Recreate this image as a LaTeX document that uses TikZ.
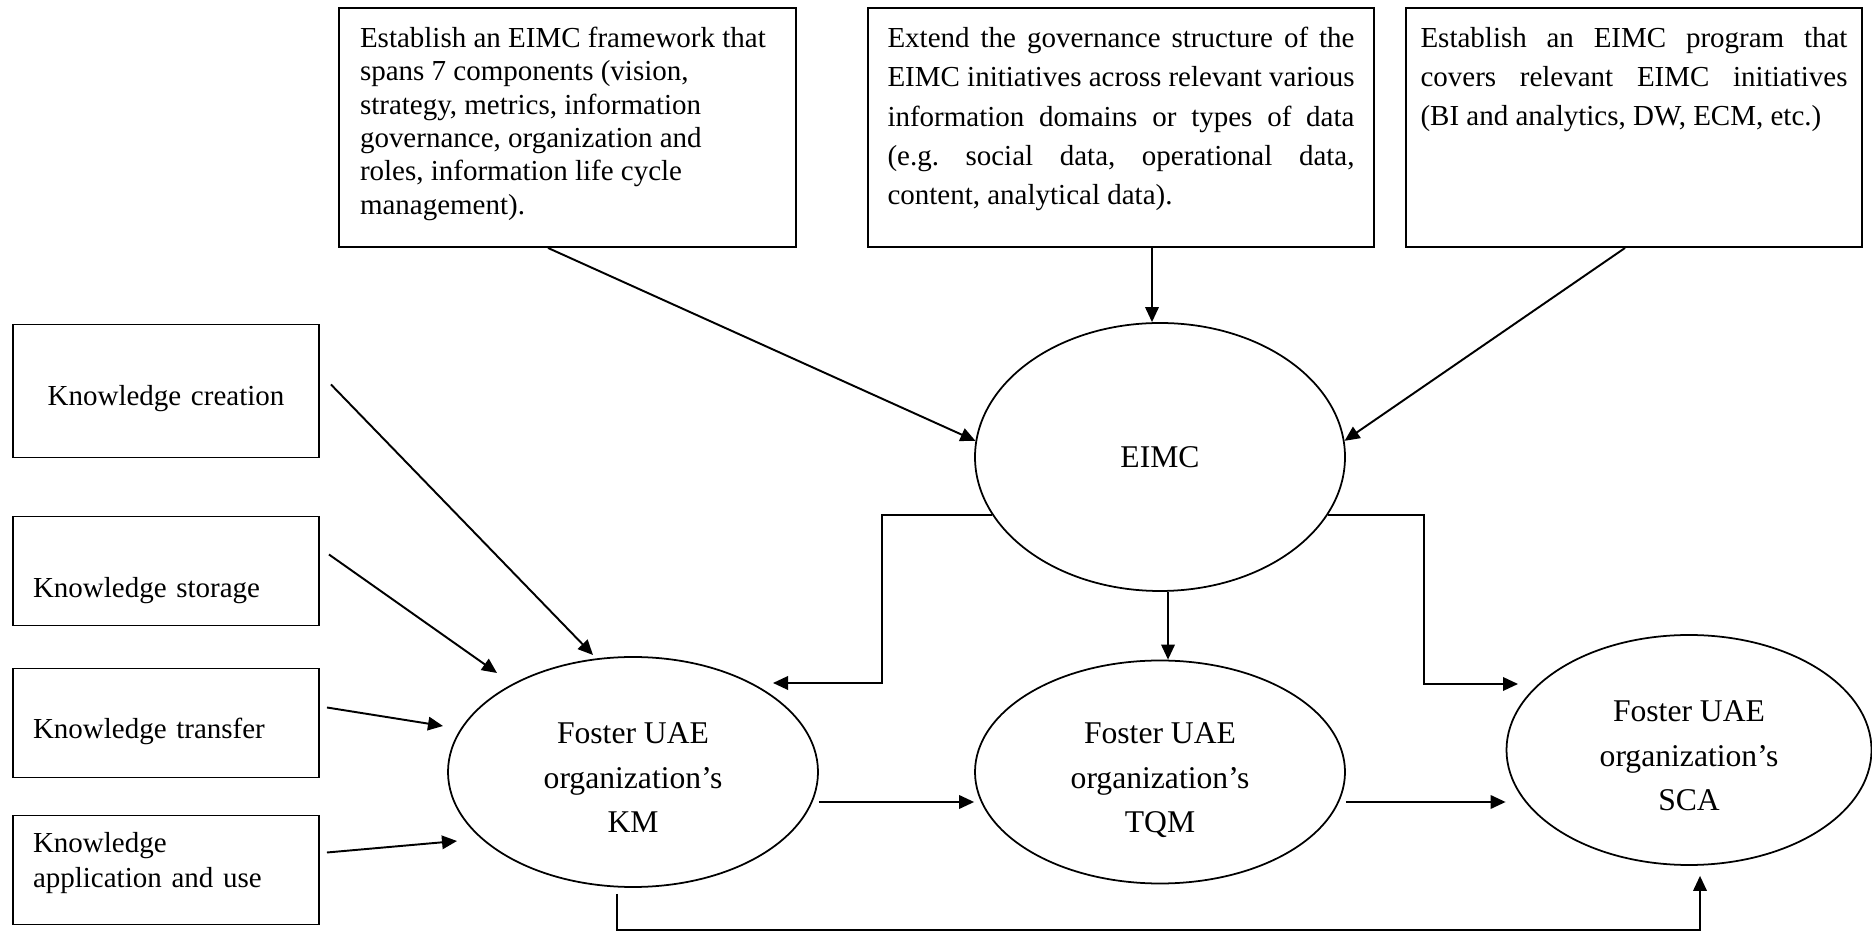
\documentclass[tikz,border=0pt]{standalone}
\usepackage{fontspec}
\setmainfont{Liberation Serif}
\usetikzlibrary{arrows.meta,shapes.geometric}
\frenchspacing
\setlength{\parindent}{0pt}
\newcommand{\boxfont}{\fontsize{16.5pt}{19pt}\selectfont}
\newcommand{\wideboxfont}{\fontsize{16.5pt}{22.4pt}\selectfont}
\newcommand{\kfont}{\fontsize{16.5pt}{19.8pt}\selectfont}
\newcommand{\ellfont}{\fontsize{18pt}{25.6pt}\selectfont}
\newcommand{\boxtext}[2]{\parbox[c][4.02cm][t]{#1}{#2}}
\tikzset{
    block/.style = {draw, rectangle, line width=1.1pt,
        minimum height=4.78cm, inner xsep=0pt, inner ysep=0.38cm, font=\boxfont},
    kblock/.style = {draw, rectangle, line width=1.1pt,
        minimum width=6.12cm, minimum height=2.18cm,
        text width=5.32cm, inner xsep=0.4cm, align=left, font=\kfont},
    goal/.style = {draw, ellipse, line width=1pt, inner sep=0pt,
        minimum width=7.4cm, minimum height=4.6cm, align=center, font=\ellfont,
        text height=2.44cm, text depth=0pt},
    arrow/.style = {draw, ->, line width=1.1pt}
}
\begin{document}
\begin{tikzpicture}[>={Triangle[length=0.3cm,width=0.27cm]}]
        \useasboundingbox (0,0) rectangle (37.44,18.62);
        % top boxes
        \node [block, minimum width=9.14cm] (frame) at (11.35,16.07) {\boxtext{8.3cm}{\raggedright Establish an EIMC framework that\\ spans 7 components (vision,\\ strategy, metrics, information\\ governance, organization and\\ roles, information life cycle\\ management).}};
        \node [block, font=\wideboxfont, minimum width=10.12cm, right of=frame, node distance=11.07cm] (govern) {\boxtext{9.34cm}{Extend the governance structure of the\linebreak EIMC initiatives across relevant various\linebreak information domains or types of data\linebreak (e.g. social data, operational data,\linebreak content, analytical data).}};
        \node [block, font=\wideboxfont, minimum width=9.12cm, right of=govern, node distance=10.26cm] (program) {\boxtext{8.54cm}{Establish an EIMC program that\linebreak covers relevant EIMC initiatives\linebreak (BI and analytics, DW, ECM, etc.)}};
        % knowledge boxes
        \node [kblock, align=center, minimum height=2.66cm, text height=0.58cm, text depth=0pt] (create) at (3.32,10.80) {Knowledge creation};
        \node [kblock, below of=create, node distance=3.6cm, text height=1.08cm, text depth=0pt] (store) {Knowledge storage};
        \node [kblock, below of=store, node distance=3.04cm, text height=0.62cm, text depth=0pt] (transfer) {Knowledge transfer};
        \node [kblock, below of=transfer, node distance=2.94cm, text height=0.1cm, text depth=0.8cm] (apply) {Knowledge\\application and use};
        % ellipses
        \node [goal] (km) at (12.66,3.18) {Foster UAE\\organization’s\\KM};
        \node [goal, minimum height=4.46cm, right of=km, node distance=10.54cm] (tqm) {Foster UAE\\organization’s\\TQM};
        \node [goal, minimum width=7.3cm, right of=tqm, node distance=10.58cm, yshift=0.44cm] (sca) {Foster UAE\\organization’s\\SCA};
        \node [goal, minimum height=5.36cm, text height=0.42cm, above of=tqm, node distance=6.3cm] (eimc) {EIMC};
        % into EIMC
        \draw [arrow] ([xshift=-0.39cm]frame.south) -- (eimc.175);
        \draw [arrow] ([xshift=-0.16cm]eimc.north |- govern.south) -- ([xshift=-0.16cm]eimc.north);
        \draw [arrow] ([xshift=-0.18cm]program.south) -- (eimc.5);
        % into KM
        \coordinate (tipcreate) at ([shift={(-0.8,2.34)}]km.center);
        \coordinate (tipstore) at ([shift={(-2.72,1.98)}]km.center);
        \coordinate (tiptransfer) at ([shift={(-3.8,0.92)}]km.center);
        \coordinate (tipapply) at ([shift={(-3.52,-1.38)}]km.center);
        \draw [arrow] ([shift={(0.22,0.13)}]create.east) -- (tipcreate);
        \draw [arrow] ([shift={(0.18,0.33)}]store.east) -- (tipstore);
        \draw [arrow] ([shift={(0.14,0.31)}]transfer.east) -- (tiptransfer);
        \draw [arrow] ([shift={(0.14,0.35)}]apply.east) -- (tipapply);
        % EIMC out
        \coordinate (kmtop) at ([shift={(2.8,1.78)}]km.center);
        \coordinate (scatop) at ([shift={(-3.42,1.32)}]sca.center);
        \draw [arrow] (eimc.199) -| ([xshift=2.18cm]kmtop) -- (kmtop);
        \draw [arrow] ([xshift=0.16cm]eimc.south) -- ([xshift=0.16cm]tqm.north);
        \draw [arrow] (eimc.-19) -| ([xshift=-1.88cm]scatop) -- (scatop);
        % KM -> TQM -> SCA
        \draw [arrow] ([yshift=-0.6cm]km.east) -- ([yshift=-0.6cm]km.east -| tqm.west);
        \draw [arrow] ([yshift=-0.6cm]tqm.east) -- ([yshift=-0.6cm]tqm.east -| sca.west);
        \coordinate (scabot) at ([shift={(0.22,-0.2)}]sca.south);
        \draw [arrow] ([shift={(-0.32,-0.12)}]km.south) |- ([yshift=-1.08cm]scabot) -- (scabot);
    \end{tikzpicture}
\end{document}
